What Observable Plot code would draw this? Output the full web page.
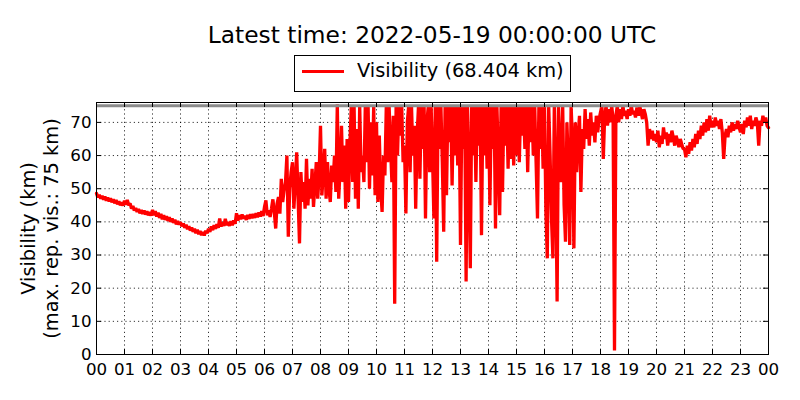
<!DOCTYPE html>
<html><head><meta charset="utf-8">
<script src="https://cdn.jsdelivr.net/npm/d3@7"></script>
<script src="https://cdn.jsdelivr.net/npm/@observablehq/plot@0.6"></script>
<style>
body{margin:0;background:#fff;font-family:"DejaVu Sans",sans-serif;}
#wrap{position:relative;width:800px;height:400px;overflow:hidden;}
#chart{position:absolute;left:0;top:0;}
#title{position:absolute;left:0;width:864px;top:21px;text-align:center;font-size:23.3px;line-height:27px;white-space:nowrap;z-index:2;}
#legend{position:absolute;left:294px;top:55px;width:275px;height:35px;border:1px solid #000;background:#fff;z-index:2;}
#legend .sw{position:absolute;left:7px;top:14px;width:42px;height:2.8px;background:#ff0000;}
#legend .lb{position:absolute;left:62px;top:4px;font-size:19.4px;line-height:22.6px;white-space:nowrap;}
</style></head>
<body>
<div id="wrap">
  <div id="chart"></div>
  <div id="title">Latest time: 2022-05-19 00:00:00 UTC</div>
  <div id="legend"><div class="sw"></div><div class="lb">Visibility (68.404 km)</div></div>
</div>
<script>
// tick values / labels
const hours = [0,1,2,3,4,5,6,7,8,9,10,11,12,13,14,15,16,17,18,19,20,21,22,23,24];
const hourLabels = ["00","01","02","03","04","05","06","07","08","09","10","11","12","13","14","15","16","17","18","19","20","21","22","23","00"];
const yTicks = [0,10,20,30,40,50,60,70];
const maxReported = 75;
const stepMinutes = 3;

// visibility (km), one value every 3 minutes from 00:00 to 24:00
const visibility = [
  // 00
  48.6,47.4,48.2,47.0,47.9,46.7,47.6,46.4,47.3,46.2,47.1,45.9,46.8,45.6,46.6,45.3,46.2,45.0,45.9,44.9,
  // 01
  46.4,45.2,46.6,45.0,45.6,44.0,44.8,43.4,44.2,43.0,43.9,42.6,43.6,42.4,43.4,42.2,43.2,42.0,42.9,41.9,
  // 02
  43.6,42.0,43.2,41.6,42.8,41.2,42.4,40.8,42.0,40.6,41.7,40.3,41.4,40.0,41.0,39.7,40.6,39.3,40.2,39.2,
  // 03
  39.9,38.7,39.5,38.2,39.1,37.8,38.7,37.4,38.3,37.0,37.9,36.6,37.6,36.3,37.2,36.0,36.9,35.9,37.3,36.6,
  // 04
  37.9,37.0,38.6,37.5,39.0,37.9,39.3,38.2,41.0,38.6,39.8,38.8,40.9,39.0,39.9,38.8,40.2,39.0,40.4,39.4,
  // 05
  42.6,40.4,42.0,40.8,42.2,41.0,41.8,40.6,42.1,40.9,42.3,41.1,42.4,41.2,42.6,41.4,42.8,41.6,43.2,41.8,
  // 06
  44.5,46.5,42.0,43.5,41.5,44.0,46.8,43.0,38.0,45.5,47.5,42.5,53.0,46.0,49.5,52.0,60.0,35.5,50.0,55.0,
  // 07
  58.0,44.0,52.0,61.0,47.0,33.5,55.0,46.0,52.0,44.0,59.0,45.0,53.0,47.0,56.0,44.5,51.0,58.0,47.0,54.0,
  // 08
  69.0,48.0,55.0,62.0,47.0,58.0,50.0,46.0,57.0,52.0,60.0,49.0,75.5,47.0,56.0,69.0,52.0,63.0,44.0,65.0,
  // 09
  46.0,63.0,75.0,52.0,75.0,47.0,68.0,44.0,75.0,55.0,60.0,52.0,75.0,58.0,75.0,50.0,70.0,54.0,75.0,48.0,
  // 10
  70.0,46.0,66.0,50.0,43.0,60.0,54.0,75.0,58.0,75.0,63.0,52.0,72.0,15.3,75.0,60.0,75.0,66.0,75.0,58.0,
  // 11
  63.0,42.5,70.0,75.0,55.0,75.0,60.0,69.0,44.0,66.0,75.0,53.0,75.0,62.0,75.0,41.0,70.0,75.0,55.0,75.0,
  // 12
  60.0,41.0,75.0,28.0,75.0,62.0,75.0,58.0,37.0,75.0,48.0,75.0,64.0,75.0,51.0,75.0,60.0,75.0,57.0,75.0,
  // 13
  33.0,75.0,62.0,75.0,22.0,75.0,58.0,26.0,75.0,60.0,75.0,52.0,75.0,63.0,75.0,36.0,75.0,60.0,75.0,56.0,
  // 14
  75.0,45.0,75.0,62.0,75.0,38.0,75.0,60.0,42.0,75.0,49.0,75.0,63.0,75.0,56.0,75.0,59.0,75.0,57.0,75.0,
  // 15
  60.0,75.0,58.0,75.0,66.0,75.0,62.0,75.0,55.0,75.0,64.0,75.0,60.0,75.0,58.0,41.0,75.0,62.0,75.0,56.0,
  // 16
  75.0,43.0,29.0,75.0,60.0,41.0,29.0,75.0,55.0,16.0,75.0,62.0,52.0,75.0,45.0,34.0,70.0,58.0,33.0,75.0,
  // 17
  64.0,32.0,70.0,55.0,66.0,72.0,49.0,68.0,62.0,74.0,65.0,71.0,63.0,73.0,66.0,70.0,64.0,72.0,67.0,71.0,
  // 18
  73.0,75.0,59.0,72.0,75.0,69.0,74.0,70.0,75.0,71.0,1.2,72.0,75.0,70.0,74.0,71.0,75.0,72.0,73.5,71.0,
  // 19
  74.0,72.0,75.0,72.5,73.5,71.5,74.5,72.0,75.0,73.0,71.0,74.0,72.5,70.0,63.0,68.0,65.0,67.5,64.5,66.5,
  // 20
  64.0,67.5,62.5,66.0,63.5,68.5,65.0,67.0,63.0,66.5,64.0,67.5,65.5,63.0,66.0,64.5,62.5,65.0,63.5,62.0,
  // 21
  62.0,59.5,63.0,60.5,64.0,61.5,65.0,62.5,66.5,63.5,67.5,65.0,69.0,66.0,70.0,67.0,71.0,67.5,72.0,68.5,
  // 22
  70.5,68.5,71.5,69.0,70.5,68.0,71.0,67.0,59.0,66.0,68.0,65.5,69.0,67.0,70.0,67.5,69.5,68.0,70.5,68.5,
  // 23
  67.0,69.5,66.5,70.5,68.5,71.5,69.0,72.0,68.0,70.5,69.0,71.5,70.0,63.0,70.5,69.0,72.0,70.0,71.5,69.0,
  // 24:00
  68.404
];

const data = visibility.map((v, i) => ({t: i * stepMinutes / 60, v}));

const W = 800, H = 400;
const mL = 96, mR = 32, mT = 102, mB = 46;
const yMax = 76;
const tickPx = 5;
const yTickLen = tickPx * yMax / (H - mT - mB);
const xTickLen = tickPx * 24 / (W - mL - mR);
const dotted = {stroke: "#000", strokeOpacity: 1, strokeWidth: 0.8, strokeDasharray: "1.2,3"};

const chart = Plot.plot({
  width: W, height: H,
  marginLeft: mL, marginRight: mR, marginTop: mT, marginBottom: mB,
  style: {fontFamily: "DejaVu Sans, sans-serif", background: "#fff", color: "#000"},
  x: {type: "linear", domain: [0, 24]},
  y: {domain: [0, yMax]},
  marks: [
    Plot.ruleX(hours.slice(1, -1), {...dotted, y1: 0, y2: yMax}),
    Plot.ruleY(yTicks.slice(1), {...dotted, x1: 0, x2: 24}),
    Plot.line(data, {x: "t", y: "v", stroke: "#ff0000", strokeWidth: 3.3, strokeLinejoin: "miter"}),
    Plot.ruleY([maxReported], {stroke: "#8c8c8c", strokeWidth: 3}),
    // inward tick marks on all four sides
    Plot.ruleX(hours, {y1: 0, y2: yTickLen, stroke: "#000", strokeWidth: 1}),
    Plot.ruleX(hours, {y1: yMax - yTickLen, y2: yMax, stroke: "#000", strokeWidth: 1}),
    Plot.ruleY(yTicks, {x1: 0, x2: xTickLen, stroke: "#000", strokeWidth: 1}),
    Plot.ruleY(yTicks, {x1: 24 - xTickLen, x2: 24, stroke: "#000", strokeWidth: 1}),
    Plot.frame({stroke: "#000", strokeWidth: 1}),
    Plot.axisX(hours, {tickSize: 0, tickPadding: 9, fontSize: 16.7, label: null,
      tickFormat: d => hourLabels[hours.indexOf(d)]}),
    Plot.axisY(yTicks, {tickSize: 0, tickPadding: 5, fontSize: 16.7, label: null}),
    Plot.text(["Visibility (km)\n(max. rep. vis.: 75 km)"], {
      frameAnchor: "left", rotate: -90, dx: -57, fontSize: 19.4,
      lineHeight: 1.15, textAnchor: "middle", lineAnchor: "middle", fill: "#000"
    })
  ]
});
document.getElementById("chart").appendChild(chart);
</script>
</body></html>
